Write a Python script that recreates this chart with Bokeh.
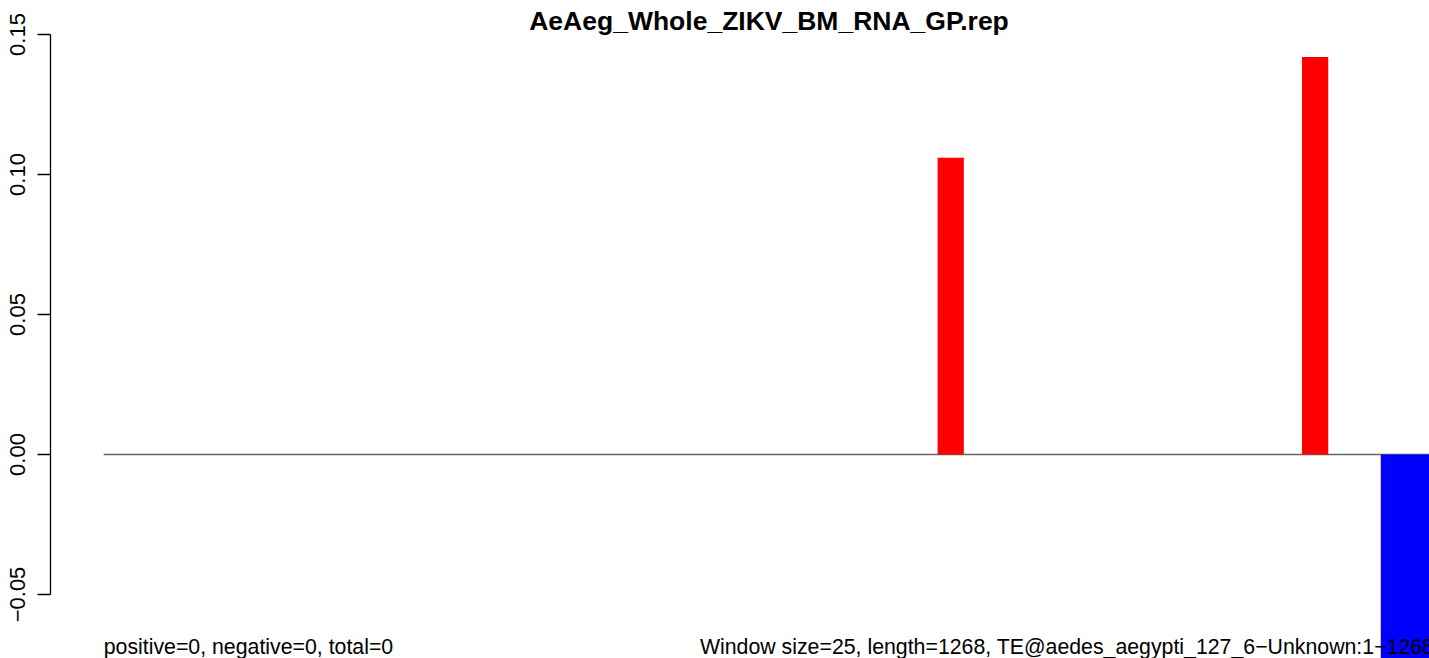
from bokeh.plotting import figure
from bokeh.models import FixedTicker, Label, Range1d
from bokeh.embed import file_html
from bokeh.resources import INLINE

# ---- data ----
title_text = "AeAeg_Whole_ZIKV_BM_RNA_GP.rep"
seq_length = 1268
window_size = 25
win_start = [795, 1142, 1217]
win_end = [820, 1167, 1268]
scores = [0.106, 0.142, -0.10]
y_ticks = [-0.05, 0.0, 0.05, 0.10, 0.15]
y_tick_labels = ["\u22120.05", "0.00", "0.05", "0.10", "0.15"]
stats_text = "positive=0, negative=0, total=0"
info_text = "Window size=25, length=1268, TE@aedes_aegypti_127_6\u2212Unknown:1\u22121268"

colors = ["#FF0000" if v > 0 else "#0000FF" for v in scores]
FONT = "Liberation Sans"

p = figure(
    width=1429, height=658,
    output_backend="svg", toolbar_location=None,
    x_range=Range1d(-49.66, 1263.4),
    y_range=Range1d(-0.07286, 0.16214),
    min_border_left=50, min_border_right=0,
    min_border_top=0, min_border_bottom=0,
    x_axis_location=None,
    outline_line_color=None,
)
p.xgrid.visible = False
p.ygrid.visible = False

# zero line along the sequence
p.line(x=[1, seq_length], y=[0, 0], line_color="#666666", line_width=1.3)

# window bars
p.quad(left=win_start, right=win_end, bottom=0, top=scores,
       fill_color=colors, line_color=None)

ax = p.yaxis[0]
ax.ticker = FixedTicker(ticks=y_ticks, minor_ticks=[])
ax.bounds = (-0.05, 0.15)
ax.major_label_overrides = dict(zip(y_ticks, y_tick_labels))
ax.major_label_orientation = "vertical"
ax.major_tick_out = 13
ax.major_tick_in = 0
ax.minor_tick_out = 0
ax.minor_tick_in = 0
ax.axis_line_color = "black"
ax.axis_line_width = 1.3
ax.major_tick_line_color = "black"
ax.major_tick_line_width = 1.3
ax.major_label_text_font = FONT
ax.major_label_text_font_size = "22px"
ax.major_label_text_color = "black"
ax.major_label_standoff = 12

p.add_layout(Label(x=(1 + seq_length) / 2, y=637.5, y_units="screen",
                   text=title_text, text_align="center", text_baseline="alphabetic",
                   text_font=FONT, text_font_style="bold", text_font_size="26.5px",
                   text_color="black"))
p.add_layout(Label(x=1, y=12, y_units="screen", text=stats_text,
                   text_align="left", text_baseline="alphabetic",
                   text_font=FONT, text_font_size="21.3px", text_color="black"))
p.add_layout(Label(x=seq_length, y=12, y_units="screen", text=info_text,
                   text_align="right", text_baseline="alphabetic",
                   text_font=FONT, text_font_size="21.3px", text_color="black"))

open("out.html", "w").write(file_html(p, INLINE))
